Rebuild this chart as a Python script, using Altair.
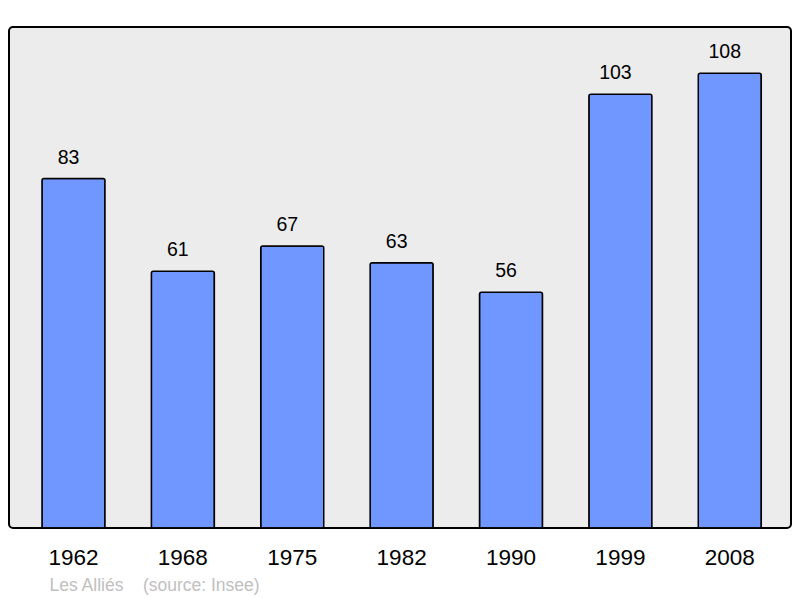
import altair as alt
import pandas as pd

annees = ['1962', '1968', '1975', '1982', '1990', '1999', '2008']
population = [83, 61, 67, 63, 56, 103, 108]
commune = 'Les Alliés'
source = '(source: Insee)'

df = pd.DataFrame({'annee': annees, 'pop': population})

pied = commune + '\u00a0\u00a0\u00a0\u00a0' + source

base = alt.Chart(df).encode(
    x=alt.X('annee:N', sort=annees,
            scale=alt.Scale(paddingInner=0.424, paddingOuter=0.2866, align=0.526),
            axis=alt.Axis(title=pied, labelAngle=0, labelFontSize=22.5, labelColor='black',
                          labelFont='Liberation Sans', labelBaseline='alphabetic',
                          labelPadding=36, ticks=False, tickSize=0, domain=False, grid=False,
                          titleX=40, titleY=62, titleAlign='left', titleAnchor='start',
                          titleBaseline='alphabetic', titleFontSize=17.5, titleFontWeight='normal',
                          titleFont='Liberation Sans', titleColor='#c0c0c0')),
    y=alt.Y('pop:Q', scale=alt.Scale(domain=[0, 119], nice=False),
            axis=None)
)

barres = base.mark_bar(color='#7097ff', stroke='black', strokeWidth=1.5,
                       cornerRadiusTopLeft=2, cornerRadiusTopRight=2)

valeurs = base.mark_text(baseline='alphabetic', dy=-15, dx=-5, fontSize=19.5,
                         font='Liberation Sans', color='black').encode(
    text='pop:Q'
)

chart = (barres + valeurs).properties(
    width=782, height=501,
    autosize=alt.AutoSizeParams(type='none'),
    padding={'left': 1, 'top': 19, 'right': 1, 'bottom': 67}
).configure_view(
    fill='#ececec', stroke='black', strokeWidth=2, cornerRadius=4
)

chart.save('out.html', embed_options={'renderer': 'svg', 'actions': False})
